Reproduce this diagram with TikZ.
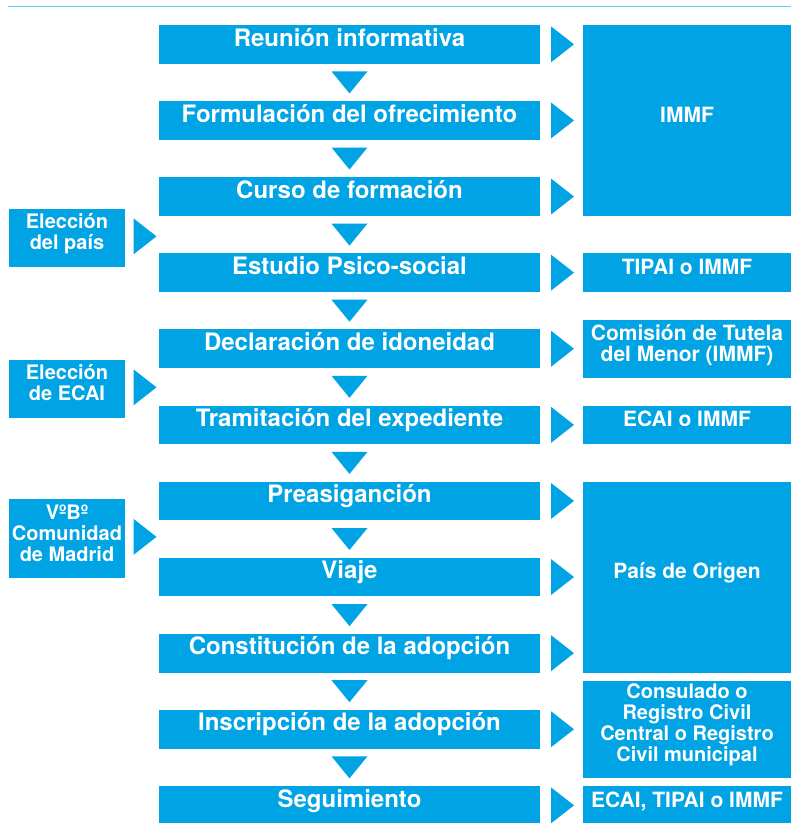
\documentclass[tikz,border=0pt]{standalone}
\usepackage{fontspec}
\setmainfont{TeX Gyre Heros}
\usetikzlibrary{calc}
\definecolor{boxblue}{RGB}{0,163,228}
\definecolor{lineblue}{RGB}{100,198,242}
\begin{document}
\begin{tikzpicture}[x=1pt,y=-1pt,
  blue box/.style={fill=boxblue, text=white, inner sep=0pt, outer sep=0pt, anchor=north west, align=center},
  mainbox/.style={blue box, minimum width=381pt, text height=21pt, text depth=17.7pt, font=\fontsize{24}{25}\selectfont\bfseries},
  rightbox/.style={blue box, minimum width=208pt, font=\fontsize{21}{21.5}\selectfont\bfseries},
  leftbox/.style={blue box, minimum width=116pt, font=\fontsize{20}{21}\selectfont\bfseries},
  downtri/.pic={\fill[boxblue] (-18,-11) -- (18,-11) -- (0,11) -- cycle;},
  righttri/.pic={\fill[boxblue] (-11.5,-18) -- (11.5,0) -- (-11.5,18) -- cycle;}
]
\useasboundingbox (0,0) rectangle (791,823);
\draw[lineblue, line width=1.5pt] (8,6.5) -- (791,6.5);

% main column
\node[mainbox] (b1)  at (159,25)    {Reunión informativa};
\node[mainbox] (b2)  at (159,101.1) {Formulación del ofrecimiento};
\node[mainbox] (b3)  at (159,177.2) {Curso de formación};
\node[mainbox] (b4)  at (159,253.3) {Estudio Psico-social};
\node[mainbox] (b5)  at (159,329.4) {Declaración de idoneidad};
\node[mainbox] (b6)  at (159,405.5) {Tramitación del expediente};
\node[mainbox] (b7)  at (159,481.6) {Preasiganción};
\node[mainbox] (b8)  at (159,557.7) {Viaje};
\node[mainbox] (b9)  at (159,633.8) {Constitución de la adopción};
\node[mainbox] (b10) at (159,709.9) {Inscripción de la adopción};
\node[mainbox] (b11) at (159,786)   {Seguimiento};

% right column
\node[rightbox, text height=97.1pt, text depth=93.8pt] (r1) at (583,25) {IMMF};
\node[rightbox, text height=21.5pt, text depth=17.2pt] (r2) at (583,253.3) {TIPAI o IMMF};
\node[rightbox, text height=41.7pt, text depth=16pt] (r3) at (583,320) {Comisión de Tutela\\del Menor (IMMF)};
\node[rightbox, text height=21pt, text depth=17.7pt] (r4) at (583,405.5) {ECAI o IMMF};
\node[rightbox, text height=97.1pt, text depth=93.8pt] (r5) at (583,481.6) {País de Origen};
\node[rightbox, font=\fontsize{20}{21}\selectfont\bfseries, text height=80pt, text depth=16.7pt] (r6) at (583,681) {Consulado o\\Registro Civil\\Central o Registro\\Civil municipal};
\node[rightbox, text height=21pt, text depth=17.7pt] (r7) at (583,786) {ECAI, TIPAI o IMMF};

% left column
\node[leftbox, text height=40.3pt, text depth=17.4pt] (l1) at (9,209) {Elección\\del país};
\node[leftbox, text height=40pt, text depth=17.7pt] (l2) at (9,360) {Elección\\de ECAI};
\node[leftbox, text height=62.7pt, text depth=16pt] (l3) at (9,499) {VºBº\\Comunidad\\de Madrid};

% down arrows
\foreach \a/\b in {b1/b2,b2/b3,b3/b4,b4/b5,b5/b6,b6/b7,b7/b8,b8/b9,b9/b10,b10/b11}
  \pic at ($(\a.south)!0.5!(\b.north)$) {downtri};

% right arrows
\foreach \a in {b1,b2,b3,b4,b5,b6,b7,b8,b9,b10,b11}
  \pic at ($(\a.east)+(22.5,0)$) {righttri};

% left arrows
\foreach \a in {l1,l2,l3}
  \pic at ($(\a.east)+(20,-1.5)$) {righttri};
\end{tikzpicture}
\end{document}
